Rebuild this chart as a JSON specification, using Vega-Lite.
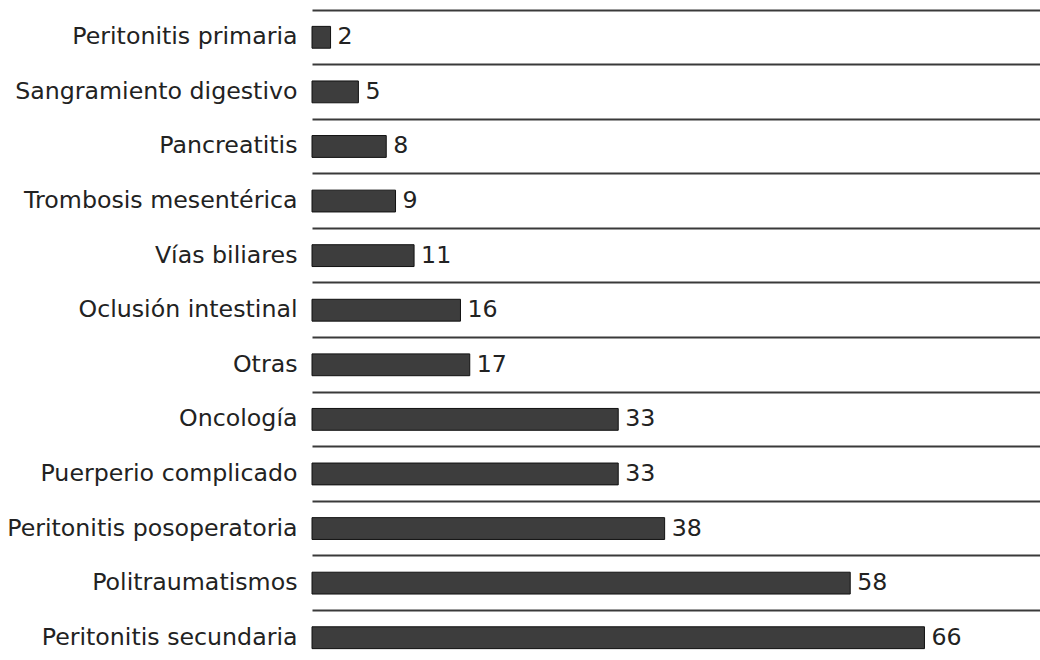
{
  "$schema": "https://vega.github.io/schema/vega-lite/v6.json",
  "width": 728,
  "height": 650,
  "autosize": {"type": "none"},
  "padding": {"left": 312, "top": 10, "right": 0, "bottom": 0},
  "background": "white",
  "config": {
    "view": {"stroke": null},
    "font": "DejaVu Sans"
  },
  "data": {
    "values": [
      {"causa": "Peritonitis primaria", "casos": 2},
      {"causa": "Sangramiento digestivo", "casos": 5},
      {"causa": "Pancreatitis", "casos": 8},
      {"causa": "Trombosis mesentérica", "casos": 9},
      {"causa": "Vías biliares", "casos": 11},
      {"causa": "Oclusión intestinal", "casos": 16},
      {"causa": "Otras", "casos": 17},
      {"causa": "Oncología", "casos": 33},
      {"causa": "Puerperio complicado", "casos": 33},
      {"causa": "Peritonitis posoperatoria", "casos": 38},
      {"causa": "Politraumatismos", "casos": 58},
      {"causa": "Peritonitis secundaria", "casos": 66}
    ]
  },
  "encoding": {
    "y": {
      "field": "causa",
      "type": "nominal",
      "sort": null,
      "scale": {"range": [0, 655], "paddingInner": 0, "paddingOuter": 0},
      "axis": {
        "title": null,
        "domain": false,
        "ticks": false,
        "grid": true,
        "bandPosition": 0,
        "gridColor": "#3a3a3a",
        "gridWidth": 2,
        "labelFont": "DejaVu Sans",
        "labelFontSize": 23.7,
        "labelColor": "#222222",
        "labelPadding": 15,
        "labelLimit": 400
      }
    },
    "x": {
      "field": "casos",
      "type": "quantitative",
      "scale": {"domain": [0, 78.45], "nice": false, "zero": true},
      "axis": null
    }
  },
  "layer": [
    {
      "mark": {
        "type": "bar",
        "height": {"band": 0.4},
        "fill": "#3d3d3d",
        "stroke": "#111111",
        "strokeWidth": 1
      }
    },
    {
      "mark": {
        "type": "text",
        "align": "left",
        "baseline": "middle",
        "dx": 7,
        "fontSize": 23.7,
        "font": "DejaVu Sans",
        "color": "#222222"
      },
      "encoding": {
        "text": {"field": "casos", "type": "quantitative"}
      }
    }
  ]
}
